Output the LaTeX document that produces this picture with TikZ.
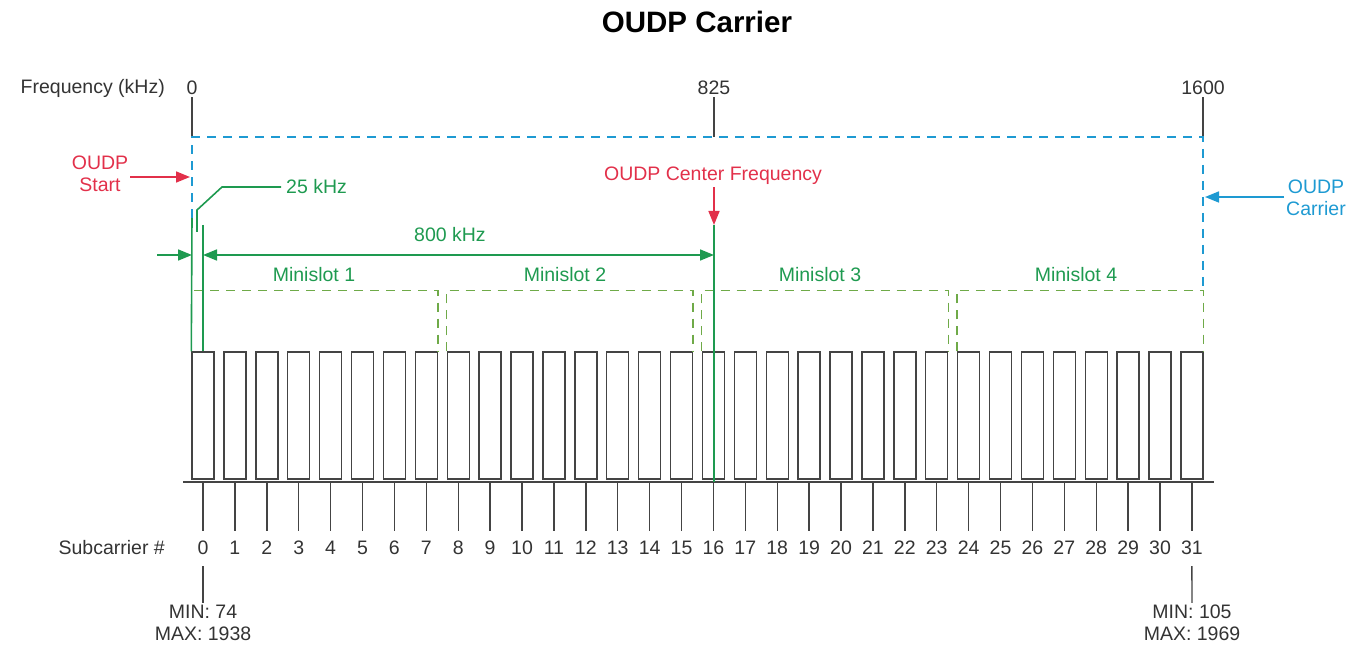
\documentclass[tikz,border=0pt]{standalone}
\usepackage{fontspec}
\setmainfont{Liberation Sans}
\usetikzlibrary{arrows.meta,calc}
\definecolor{cred}{HTML}{E2304A}
\definecolor{cgreen}{HTML}{1E9A50}
\definecolor{cblue}{HTML}{1E9AD2}
\definecolor{cdash}{HTML}{6FAA48}
\definecolor{ctext}{HTML}{333333}
\definecolor{cline}{HTML}{444444}
\tikzset{
  lbl/.style={font=\fontsize{19.5}{22}\selectfont, text=ctext, inner sep=2pt},
  redlbl/.style={lbl, text=cred, align=center},
  bluelbl/.style={lbl, text=cblue, align=center},
  greenlbl/.style={lbl, text=cgreen},
  tickline/.style={draw=cline, line width=1.4pt},
  scbox/.style={draw=cline, line width=1.4pt, minimum width=22pt, minimum height=127pt, inner sep=0pt},
  bluedash/.style={draw=cblue, line width=1.5pt, dash pattern=on 9pt off 7pt},
  greendash/.style={draw=cdash, line width=1.5pt, dash pattern=on 9pt off 7pt},
  gline/.style={draw=cgreen, line width=1.6pt},
  garrow/.style={gline, -{Triangle[length=14pt,width=11pt]}},
  gdarrow/.style={gline, {Triangle[length=14pt,width=11pt]}-{Triangle[length=14pt,width=11pt]}},
  rarrow/.style={draw=cred, line width=1.6pt, -{Triangle[length=14pt,width=11pt]}},
  barrow/.style={draw=cblue, line width=1.6pt, -{Triangle[length=14pt,width=11pt]}},
}
\begin{document}
\begin{tikzpicture}[x=1pt,y=-1pt]
\useasboundingbox (0,0) rectangle (1361,647);
% title
\node[font=\fontsize{29.5}{33}\selectfont\bfseries, text=black] (ttl) at (697,22) {OUDP Carrier};
% frequency axis
\node[lbl, anchor=east] (freq) at (167,88) {Frequency (kHz)};
\node[lbl] (f0) at (192,88) {0};
\node[lbl] (f825) at (714,88) {825};
\node[lbl] (f1600) at (1203,88) {1600};
\coordinate (cTL) at (192,137);
\coordinate (cTM) at (714,137);
\coordinate (cTR) at (1203,137);
\draw[tickline] (f0.south) -- (cTL);
\draw[tickline] (f825.south) -- (cTM);
\draw[tickline] (f1600.south) -- (cTR);
% blue carrier outline
\coordinate (cBL) at (192,218);
\coordinate (cBR) at (1203,291);
\draw[bluedash] (cBL) -- (cTL) -- (cTR) -- (cBR);
% subcarrier boxes
\foreach \i in {0,...,31} {
  \node[scbox] (b\i) at ({203+\i*31.9},415.5) {};
}
\coordinate (baseL) at (183,482);
\coordinate (baseR) at (1214,482);
\draw[tickline] (baseL) -- (baseR);
\foreach \i in {0,...,31} {
  \node[lbl] (n\i) at ({203+\i*31.9},548) {\i};
  \draw[tickline] (b\i.south |- baseL) -- ++(0,49);
}
\node[lbl, anchor=east] (subc) at (167,548) {Subcarrier \#};
% min / max
\node[lbl, align=center] (mm0) at (203,623) {MIN: 74\\MAX: 1938};
\node[lbl, align=center] (mm31) at (1192,623) {MIN: 105\\MAX: 1969};
\draw[tickline] (n0.south |- 0,566) -- (mm0.north);
\draw[tickline] (n31.south |- 0,566) -- (mm31.north);
% minislots
\foreach \k/\lx in {0/314,1/565,2/820,3/1076} {
  \pgfmathtruncatemacro{\a}{8*\k}
  \pgfmathtruncatemacro{\b}{8*\k+7}
  \pgfmathtruncatemacro{\m}{\k+1}
  \draw[greendash] (b\a.north west) -- ++(0,-61) coordinate (ms\k) -| (b\b.north east);
  \node[greenlbl] (msl\k) at (\lx,275) {Minislot \m};
}
% OUDP start
\node[redlbl] (start) at (100,174) {OUDP\\Start};
\coordinate (startTip) at (190,177);
\draw[rarrow] (start.east |- startTip) -- (startTip);
% 25 kHz
\node[greenlbl, anchor=west] (k25) at (284,187) {25 kHz};
\coordinate (l25a) at (197,232);
\coordinate (l25b) at (197,210);
\coordinate (l25c) at (222,187);
\draw[gline] (l25a) -- (l25b) -- (l25c) -- ([xshift=-3pt]k25.west);
% green vertical lines at start
\coordinate (g1top) at (192,218);
\coordinate (g2top) at (203,225);
\draw[gline] (g1top) -- (b0.north west);
\draw[gline] (g2top) -- (b0.north);
% arrows at y=255
\coordinate (la) at (157,255);
\coordinate (lb) at (192,255);
\coordinate (da) at (203,255);
\coordinate (db) at (714,255);
\draw[garrow] (la) -- (lb);
\draw[gdarrow] (da) -- (db);
\node[greenlbl] (k800) at (450,235) {800 kHz};
% center frequency
\node[redlbl] (cf) at (713,176) {OUDP Center Frequency};
\coordinate (cfTip) at (714,225);
\draw[rarrow] (cfTip |- cf.south) -- (cfTip);
\draw[gline] (cfTip) -- (714,482);
% OUDP carrier label
\node[bluelbl] (oc) at (1316,198) {OUDP\\Carrier};
\coordinate (ocTip) at (1205,197);
\draw[barrow] (oc.west |- ocTip) -- (ocTip);
\end{tikzpicture}
\end{document}
